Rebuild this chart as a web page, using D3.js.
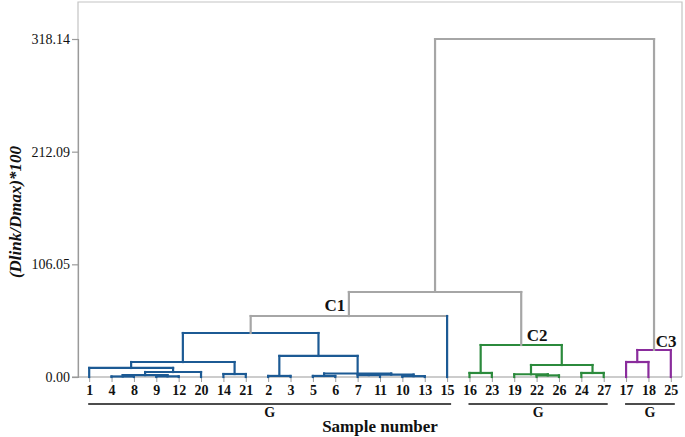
<!DOCTYPE html>
<html>
<head>
<meta charset="utf-8">
<script src="https://cdn.jsdelivr.net/npm/d3@7"></script>
<style>
  html, body { margin: 0; padding: 0; background: #ffffff; }
  svg { display: block; }
  text { font-family: "Liberation Serif", "Times New Roman", serif; }
</style>
</head>
<body>
<svg id="chart" width="685" height="437"></svg>
<script>
// ---------------- data ----------------
const leaves = ["1","4","8","9","12","20","14","21","2","3","5","6","7","11","10","13","15",
                "16","23","19","22","26","24","27","17","18","25"];
const leafGroup = [1,1,1,1,1,1,1,1,1,1,1,1,1,1,1,1,1, 2,2,2,2,2,2,2, 3,3,3];

// merges: id, left child, right child, height, group (0 = grey upper links)
const nodeIds     = ["n1","n2","n3","n4","n5","n6","n7","n8","n9","n10","n11","n12","n13","n14","n15","C1",
                     "n17","n18","n19","n20","n21","C2","n23","C3","n25","root"];
const nodeLeft    = ["4","9","n1","n3","1","14","n5","2","5","7","10","n10","n9","n8","n7","n15",
                     "16","22","19","24","n19","n17","17","n23","C1","n25"];
const nodeRight   = ["8","12","n2","20","n4","21","n6","3","6","11","13","n11","n12","n13","n14","15",
                     "23","26","n18","27","n20","n21","18","25","C2","C3"];
const nodeHeight  = [0.5,0.6,1.8,4.7,8.5,2.8,14.1,1.0,1.0,1.8,0.8,2.3,3.3,19.8,41.4,57.4,
                     3.8,1.5,2.6,3.8,11.3,30.1,14.1,25.4,80.0,318.14];
const nodeGroup   = [1,1,1,1,1,1,1,1,1,1,1,1,1,1,1,0,
                     2,2,2,2,2,2,3,3,0,0];

const yTicks = [0, 106.05, 212.09, 318.14];
const clusterLabels = ["C1","C2","C3"];
const clusterNodes  = ["C1","C2","C3"];
const groupNames = ["G","G","G"];
const groupIds = [1,2,3];

const colors = {0: "#a6a6a6", 1: "#1c5a94", 2: "#2b8a3c", 3: "#8a2c9c"};

// ---------------- layout ----------------
const L = 78, R = 682, T = 2, B = 377;
const svg = d3.select("#chart");

const x = d3.scalePoint().domain(leaves).range([L, R]).padding(0.5);
const y = d3.scaleLinear().domain([0, 318.14]).range([B, 39]);

// node positions
const pos = {};
const grp = {};
leaves.forEach((l, i) => { pos[l] = {x: x(l), h: 0}; grp[l] = leafGroup[i]; });
nodeIds.forEach((id, i) => {
  const a = pos[nodeLeft[i]], b = pos[nodeRight[i]];
  pos[id] = {x: (a.x + b.x) / 2, h: nodeHeight[i]};
  grp[id] = nodeGroup[i];
});

// frame
svg.append("path")
  .attr("d", `M${L},${B} V${T} H${R} V${B}`)
  .attr("fill", "none").attr("stroke", "#c4c4c4").attr("stroke-width", 1.2);

// y axis
const yAxis = d3.axisLeft(y).tickValues(yTicks).tickFormat(d3.format(".2f")).tickSize(6).tickPadding(2);
const gy = svg.append("g").attr("transform", `translate(${L},0)`).call(yAxis);
gy.select(".domain").attr("stroke", "#9a9a9a").attr("stroke-width", 1.2);
gy.selectAll(".tick line").attr("stroke", "#9a9a9a").attr("stroke-width", 1.2);
gy.selectAll(".tick text").attr("font-family", "Liberation Serif").attr("font-size", 14).attr("fill", "#111");

// x axis
const xAxis = d3.axisBottom(x).tickSize(5).tickPadding(3).tickSizeOuter(0);
const gx = svg.append("g").attr("transform", `translate(0,${B})`).call(xAxis);
gx.select(".domain").attr("d", `M${L - 6},0 H${R}`).attr("stroke", "#9a9a9a").attr("stroke-width", 1.2);
gx.selectAll(".tick line").attr("stroke", "#9a9a9a").attr("stroke-width", 1);
gx.selectAll(".tick text").attr("font-family", "Liberation Serif").attr("font-size", 14)
  .attr("font-weight", "bold").attr("fill", "#111");

// dendrogram links
const links = svg.append("g").attr("fill", "none").attr("stroke-width", 2.2).attr("stroke-linecap", "square");
nodeIds.forEach((id, i) => {
  const p = pos[id], a = pos[nodeLeft[i]], b = pos[nodeRight[i]];
  const col = colors[nodeGroup[i]];
  const legCol = (child) => (leaves.includes(child) ? colors[grp[child]] : col);
  const yp = y(p.h);
  links.append("path").attr("d", `M${a.x},${yp} H${b.x}`).attr("stroke", col);
  links.append("path").attr("d", `M${a.x},${yp} V${y(a.h)}`).attr("stroke", legCol(nodeLeft[i]));
  links.append("path").attr("d", `M${b.x},${yp} V${y(b.h)}`).attr("stroke", legCol(nodeRight[i]));
});

// cluster labels
const labelOffsets = {C1: [-14, -5], C2: [16, -4], C3: [12, -3]};
clusterLabels.forEach((lab, i) => {
  const n = pos[clusterNodes[i]];
  const off = labelOffsets[lab];
  svg.append("text")
    .attr("x", n.x + off[0]).attr("y", y(n.h) + off[1])
    .attr("text-anchor", "middle")
    .attr("font-size", 17).attr("font-weight", "bold").attr("fill", "#111")
    .text(lab);
});

// group underlines and labels
groupIds.forEach((g, i) => {
  const members = leaves.filter((l, j) => leafGroup[j] === g);
  const x0 = x(members[0]) - 1, x1 = x(members[members.length - 1]) + 4;
  svg.append("line").attr("x1", x0).attr("x2", x1).attr("y1", 404).attr("y2", 404)
    .attr("stroke", "#111").attr("stroke-width", 1.3);
  svg.append("text").attr("x", (x0 + x1) / 2).attr("y", 417)
    .attr("text-anchor", "middle").attr("font-size", 14).attr("font-weight", "bold").attr("fill", "#111")
    .text(groupNames[i]);
});

// axis titles
svg.append("text").attr("x", (L + R) / 2).attr("y", 432)
  .attr("text-anchor", "middle").attr("font-size", 17).attr("font-weight", "bold").attr("fill", "#111")
  .text("Sample number");

svg.append("text")
  .attr("transform", `translate(21,${212}) rotate(-90)`)
  .attr("text-anchor", "middle").attr("font-size", 17).attr("font-weight", "bold")
  .attr("font-style", "italic").attr("fill", "#111")
  .text("(Dlink/Dmax)*100");
</script>
</body>
</html>
